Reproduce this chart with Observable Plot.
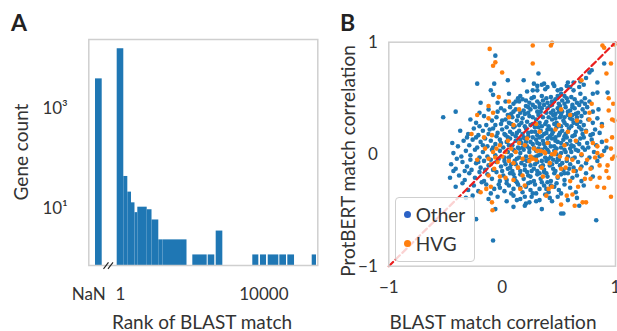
<!DOCTYPE html>
<html>
<head>
<meta charset="utf-8">
<script src="https://cdn.jsdelivr.net/npm/d3@7"></script>
<script src="https://cdn.jsdelivr.net/npm/@observablehq/plot@0.6"></script>
<style>
  html, body { margin: 0; padding: 0; background: #fff; }
  #wrap { position: relative; width: 617px; height: 331px; overflow: hidden; font-family: Lato, "Open Sans", sans-serif; color: #333; }
  .title { position: absolute; font-size: 19px; line-height: 1; white-space: nowrap; color: #333; transform: translate(-50%, -50%); }
  .panel { position: absolute; font-size: 23px; font-weight: 700; line-height: 1; color: #222; }
  #legend { position: absolute; box-sizing: border-box; border: 1.5px solid #cfcfcf; border-radius: 4px; background: rgba(255,255,255,0.8); }
  .lrow { position: absolute; font-size: 19px; line-height: 1; white-space: nowrap; color: #333; }
  .ldot { position: absolute; width: 7px; height: 7px; border-radius: 50%; }
</style>
</head>
<body>
<div id="wrap"></div>
<script>
// ---------------- Panel A data: histogram of BLAST match rank ----------------
// bin edges are in log10(rank) units; the NaN bin sits left of the axis break
const binLo    = [-0.697, -0.092, 0.092, 0.204, 0.307, 0.404, 0.483, 0.745, 0.879, 1.068, 1.186, 1.674, 2.017, 2.446, 2.669, 3.690, 3.905, 4.120, 4.444, 4.667, 5.347];
const binHi    = [-0.510,  0.092, 0.204, 0.307, 0.404, 0.483, 0.745, 0.879, 1.068, 1.186, 1.674, 1.855, 2.418, 2.630, 2.854, 3.858, 4.073, 4.416, 4.630, 4.854, 5.467];
const binCount = [3300, 13200, 37, 18, 11, 7, 9, 8, 5, 2, 2, 2, 1, 1, 3, 1, 1, 1, 1, 1, 1];
const rankTickPos    = [-0.884, 0, 4];
const rankTickLabels = ["NaN", "1", "10000"];
const countTicks      = [10, 1000];
const countTickLabels = ["10¹", "10³"];
const breakX1 = [-0.474, -0.349];
const breakX2 = [-0.335, -0.209];
const breakY  = [0.525, 0.71];

// ---------------- Panel B data: [BLAST corr, ProtBERT corr] ----------------
const otherGenes = [
[-0.06,0.88],[0.32,0.72],[0.90,0.81],[0.77,0.73],[0.79,0.75],[0.84,0.64],[-0.22,0.63],[-0.07,0.63],[0.05,0.66],[0.19,0.66],[0.93,0.55],[0.84,0.55],[0.80,0.54],
[-0.10,0.57],[0.28,0.63],[0.31,0.61],[0.35,0.62],[0.37,0.63],[0.40,0.60],[0.45,0.63],[0.46,0.61],[0.52,0.58],[0.57,0.61],[0.58,0.64],[0.60,0.60],[0.63,0.64],[0.68,0.60],[0.69,0.65],[0.72,0.62],[0.74,0.68],[0.22,0.56],[0.27,0.57],[0.31,0.57],[0.38,0.58],[0.49,0.57],[0.63,0.57],
[-0.08,0.53],[0.06,0.54],[0.16,0.52],[0.14,0.50],[0.18,0.49],[0.15,0.47],[0.28,0.51],[0.43,0.51],[0.52,0.54],[0.55,0.52],[0.61,0.51],[0.69,0.54],[0.66,0.46],[0.36,0.48],[0.40,0.46],[0.47,0.49],[0.58,0.47],[0.73,0.50],[0.77,0.47],[0.24,0.46],[0.03,0.47],[-0.04,0.46],[-0.19,0.46],[0.10,0.45],[0.33,0.45],[0.50,0.45],[0.62,0.44],
[-0.41,0.38],[-0.20,0.37],[-0.01,0.41],[-0.04,0.38],[0.02,0.39],[0.07,0.42],[0.12,0.40],[0.16,0.37],[0.21,0.43],[0.25,0.40],[0.29,0.42],[0.31,0.38],[0.35,0.41],[0.39,0.37],[0.42,0.43],[0.45,0.39],[0.49,0.41],[0.53,0.38],[0.56,0.42],[0.60,0.39],[0.64,0.41],[0.67,0.37],[0.71,0.40],[0.75,0.42],[0.80,0.38],[0.85,0.40],[0.20,0.36],[0.08,0.36],[-0.12,0.40],[0.37,0.44],[0.58,0.35],[0.47,0.36],
[-0.52,0.33],[-0.23,0.28],[-0.28,0.31],[-0.16,0.34],[-0.09,0.30],[-0.05,0.33],[-0.01,0.27],[0.03,0.31],[0.06,0.28],[0.09,0.33],[0.13,0.30],[0.15,0.26],[0.18,0.32],[0.22,0.29],[0.24,0.34],[0.27,0.27],[0.30,0.31],[0.33,0.28],[0.36,0.33],[0.39,0.29],[0.41,0.25],[0.44,0.31],[0.48,0.28],[0.51,0.33],[0.54,0.30],[0.57,0.26],[0.60,0.32],[0.63,0.28],[0.66,0.33],[0.69,0.29],[0.72,0.26],[0.76,0.31],[0.80,0.28],[0.84,0.32],[0.88,0.27],[0.11,0.25],[-0.14,0.26],[0.35,0.25],[0.45,0.35],[0.62,0.35],
[-0.37,0.21],[-0.30,0.18],[-0.25,0.23],[-0.21,0.17],[-0.17,0.21],[-0.12,0.18],[-0.08,0.23],[-0.04,0.19],[0.00,0.22],[0.03,0.17],[0.07,0.20],[0.10,0.24],[0.12,0.16],[0.15,0.21],[0.18,0.18],[0.21,0.23],[0.23,0.16],[0.26,0.20],[0.29,0.24],[0.31,0.17],[0.34,0.21],[0.37,0.18],[0.40,0.22],[0.42,0.16],[0.45,0.20],[0.48,0.24],[0.50,0.17],[0.53,0.21],[0.56,0.18],[0.59,0.23],[0.62,0.16],[0.65,0.20],[0.68,0.24],[0.71,0.18],[0.74,0.21],[0.78,0.17],[0.82,0.22],[0.86,0.19],[0.05,0.15],[0.19,0.15],[0.33,0.15],[0.47,0.15],[0.57,0.15],
[-0.44,0.10],[-0.39,0.07],[-0.34,0.12],[-0.29,0.08],[-0.26,0.13],[-0.22,0.06],[-0.19,0.11],[-0.15,0.14],[-0.13,0.07],[-0.10,0.12],[-0.06,0.09],[-0.02,0.13],[0.01,0.06],[0.04,0.11],[0.07,0.14],[0.09,0.08],[0.12,0.12],[0.14,0.06],[0.17,0.10],[0.20,0.14],[0.22,0.07],[0.25,0.11],[0.28,0.06],[0.30,0.13],[0.33,0.09],[0.36,0.12],[0.38,0.06],[0.41,0.10],[0.44,0.14],[0.46,0.07],[0.49,0.11],[0.52,0.06],[0.54,0.13],[0.57,0.09],[0.60,0.12],[0.63,0.07],[0.66,0.11],[0.69,0.14],[0.71,0.06],[0.75,0.10],[0.79,0.13],[0.83,0.08],[0.88,0.11],[0.92,0.06],[0.27,0.15],[0.40,0.14],[0.60,0.05],
[-0.43,0.01],[-0.40,-0.04],[-0.32,0.03],[-0.36,-0.02],[-0.28,-0.01],[-0.24,0.04],[-0.20,-0.03],[-0.17,0.02],[-0.13,-0.02],[-0.09,0.04],[-0.06,-0.01],[-0.02,0.03],[0.02,-0.03],[0.05,0.02],[0.08,-0.01],[0.10,0.04],[0.13,-0.04],[0.16,0.01],[0.19,0.04],[0.21,-0.02],[0.24,0.02],[0.27,-0.03],[0.30,0.03],[0.32,-0.01],[0.35,0.04],[0.38,-0.03],[0.41,0.02],[0.43,-0.02],[0.46,0.03],[0.49,-0.04],[0.52,0.01],[0.55,0.04],[0.58,-0.02],[0.61,0.02],[0.64,-0.03],[0.67,0.03],[0.70,-0.01],[0.73,0.04],[0.77,-0.03],[0.81,0.02],[0.86,-0.02],[0.90,0.03],[0.15,0.05],[0.34,0.00],[0.48,0.00],
[-0.45,-0.09],[-0.41,-0.13],[-0.35,-0.07],[-0.31,-0.11],[-0.27,-0.14],[-0.23,-0.08],[-0.19,-0.12],[-0.16,-0.06],[-0.12,-0.10],[-0.08,-0.14],[-0.05,-0.07],[-0.01,-0.11],[0.02,-0.06],[0.05,-0.13],[0.08,-0.09],[0.11,-0.06],[0.14,-0.12],[0.17,-0.08],[0.20,-0.14],[0.22,-0.06],[0.25,-0.10],[0.28,-0.13],[0.31,-0.07],[0.34,-0.11],[0.37,-0.14],[0.39,-0.06],[0.42,-0.10],[0.45,-0.13],[0.48,-0.07],[0.51,-0.10],[0.54,-0.14],[0.57,-0.06],[0.60,-0.09],[0.63,-0.12],[0.67,-0.07],[0.70,-0.11],[0.74,-0.08],[0.79,-0.12],[0.84,-0.06],[0.09,-0.15],[0.31,-0.15],[0.45,-0.05],
[-0.46,-0.21],[-0.43,-0.15],[-0.38,-0.19],[-0.33,-0.23],[-0.29,-0.17],[-0.24,-0.21],[-0.20,-0.16],[-0.16,-0.24],[-0.13,-0.18],[-0.09,-0.22],[-0.05,-0.16],[-0.02,-0.24],[0.01,-0.19],[0.04,-0.23],[0.07,-0.17],[0.11,-0.21],[0.13,-0.25],[0.16,-0.18],[0.19,-0.22],[0.22,-0.16],[0.25,-0.20],[0.28,-0.24],[0.31,-0.18],[0.34,-0.22],[0.37,-0.16],[0.40,-0.20],[0.43,-0.24],[0.46,-0.17],[0.49,-0.21],[0.52,-0.18],[0.55,-0.23],[0.58,-0.17],[0.62,-0.21],[0.66,-0.19],[0.70,-0.24],[0.74,-0.17],[0.80,-0.20],[0.25,-0.25],[0.40,-0.25],
[-0.41,-0.29],[-0.35,-0.26],[-0.30,-0.32],[-0.25,-0.28],[-0.21,-0.33],[-0.14,-0.27],[-0.07,-0.31],[-0.03,-0.27],[0.02,-0.33],[0.06,-0.28],[0.10,-0.31],[0.14,-0.27],[0.18,-0.34],[0.21,-0.29],[0.25,-0.32],[0.29,-0.27],[0.33,-0.31],[0.37,-0.28],[0.41,-0.34],[0.46,-0.29],[0.50,-0.32],[0.55,-0.27],[0.60,-0.30],[0.65,-0.34],[0.72,-0.28],[0.30,-0.35],
[-0.32,-0.39],[-0.26,-0.37],[-0.12,-0.40],[-0.04,-0.38],[0.04,-0.42],[0.10,-0.37],[0.16,-0.40],[0.21,-0.44],[0.26,-0.38],[0.33,-0.41],[0.38,-0.36],[0.44,-0.42],[0.49,-0.38],[0.58,-0.41],[0.66,-0.39],[0.24,-0.43],
[-0.06,-0.49],[0.10,-0.47],[0.35,-0.49],[0.52,-0.53],[0.54,-0.53],[0.68,-0.46],[0.83,-0.59],[-0.23,-0.58],[-0.08,-0.77],[0.20,-0.46],
[0.12,0.47],[0.21,0.48],[0.26,0.50],[0.31,0.47],[0.35,0.52],[0.39,0.50],[0.44,0.47],[0.49,0.52],[0.53,0.48],[0.57,0.50],[0.64,0.49],[0.70,0.47],[0.23,0.42],[0.27,0.44],[0.33,0.42],[0.40,0.41],[0.44,0.44],[0.51,0.43],[0.55,0.45],[0.62,0.42],[0.68,0.44],[0.73,0.45],
[0.05,0.35],[0.10,0.38],[0.14,0.34],[0.19,0.39],[0.23,0.37],[0.27,0.33],[0.32,0.35],[0.34,0.38],[0.41,0.33],[0.43,0.37],[0.47,0.32],[0.50,0.38],[0.52,0.35],[0.55,0.33],[0.58,0.38],[0.62,0.31],[0.65,0.36],[0.70,0.34],[0.73,0.37],[0.00,0.30],[0.04,0.24],[0.08,0.27],[0.17,0.28],[0.20,0.25],[0.25,0.26],[0.32,0.24],[0.38,0.27],[0.43,0.22],[0.46,0.27],[0.52,0.25],[0.55,0.28],[0.61,0.25],[0.66,0.27],[0.70,0.22],[-0.06,0.26],[-0.11,0.22],[-0.20,0.25],
[-0.05,0.16],[-0.01,0.10],[0.02,0.18],[0.06,0.08],[0.09,0.18],[0.11,0.03],[0.13,0.19],[0.16,0.13],[0.18,0.06],[0.21,0.11],[0.23,0.19],[0.24,0.05],[0.27,0.09],[0.29,0.20],[0.31,0.10],[0.32,0.05],[0.35,0.16],[0.37,0.09],[0.39,0.19],[0.40,0.04],[0.43,0.07],[0.44,0.18],[0.47,0.12],[0.48,0.05],[0.51,0.19],[0.52,0.10],[0.55,0.16],[0.56,0.02],[0.58,0.20],[0.61,0.08],[0.64,0.17],[0.65,0.04],[0.68,0.09],[0.72,0.15],[0.76,0.06],[0.80,0.18],[-0.17,0.08],[-0.23,0.15],[-0.31,0.15],[-0.08,0.06],
[-0.10,-0.05],[-0.03,-0.04],[0.00,-0.15],[0.03,-0.09],[0.06,-0.03],[0.07,-0.12],[0.10,-0.18],[0.12,-0.09],[0.15,-0.03],[0.16,-0.15],[0.19,-0.05],[0.20,-0.10],[0.23,-0.19],[0.24,-0.05],[0.26,-0.15],[0.29,-0.09],[0.30,-0.02],[0.33,-0.17],[0.35,-0.06],[0.36,-0.10],[0.39,-0.17],[0.41,-0.04],[0.44,-0.09],[0.47,-0.15],[0.50,-0.05],[0.53,-0.08],[0.55,-0.17],[0.59,-0.13],[0.62,-0.04],[0.65,-0.15],[-0.15,-0.14],[-0.21,-0.07],[-0.28,-0.05],[-0.33,-0.15],
[-0.02,-0.30],[0.04,-0.26],[0.08,-0.35],[0.12,-0.24],[0.16,-0.30],[0.20,-0.38],[0.23,-0.26],[0.27,-0.35],[0.35,-0.25],[0.39,-0.31],[0.43,-0.28],[0.48,-0.26],[0.52,-0.35],[-0.10,-0.35],[-0.18,-0.25],[0.13,-0.41],[0.30,-0.42],[0.42,-0.39]
];
const hvgGenes = [
[-0.11,0.94],[0.27,0.97],[0.43,0.97],[0.44,0.995],[0.885,0.97],[0.90,0.95],[0.99,0.98],[-0.06,0.82],[-0.08,0.79],[0.27,0.81],[0.00,0.73],[0.92,0.72],[0.96,0.81],[0.70,0.66],
[-0.03,0.51],[0.06,0.47],[0.94,0.50],[-0.12,0.43],[-0.08,0.37],[-0.22,0.35],[-0.12,0.32],[0.06,0.33],[0.10,0.26],[0.94,0.39],[0.77,0.37],[0.60,0.35],[0.99,0.30],[0.50,0.26],[0.47,0.22],[0.30,0.27],[0.77,0.31],
[-0.27,0.18],[-0.16,0.15],[-0.09,0.17],
[-0.06,-0.03],[-0.10,-0.09],[-0.04,-0.07],[0.06,-0.06],[0.10,-0.08],[0.14,-0.12],[-0.07,-0.13],[-0.12,-0.19],[-0.02,-0.20],[0.03,-0.21],[-0.19,-0.34],[-0.10,-0.29],[-0.14,-0.31],[0.18,-0.19],[0.10,-0.23],[0.16,-0.31],[-0.09,-0.43],[-0.08,0.02],[-0.05,0.05],[0.00,-0.02],[0.03,0.02],[-0.12,-0.04],[0.08,0.05],[0.15,0.10],[0.20,0.08],[0.25,-0.02],[0.30,-0.05],[0.28,0.05],[-0.085,-0.50],
[0.84,0.07],[0.96,0.05],[0.97,-0.04],[0.99,-0.02],[0.84,0.01],[0.88,-0.01],[0.27,-0.04],[0.24,-0.06],[0.34,0.03],[0.38,0.01],[0.44,0.00],[0.47,0.02],[0.86,-0.10],[0.93,-0.10],[0.78,-0.13],[0.69,-0.13],[0.63,-0.15],[0.56,-0.12],[0.52,-0.13],[0.86,-0.21],[0.94,-0.21],[0.78,-0.22],[0.67,-0.29],[0.44,-0.29],[0.41,-0.31],[0.84,-0.29],[0.39,-0.37],[0.57,-0.37],[0.62,-0.36],[0.96,-0.38],[0.52,-0.45],[0.64,-0.46],[0.71,-0.43],[0.74,-0.43],
[0.31,0.03],[0.37,0.02],[0.46,0.00],[0.51,-0.02],[0.57,-0.04],[0.97,0.31],[0.97,0.15],[0.92,0.12],[0.74,0.20],[0.66,0.30],[0.82,-0.03],[0.90,-0.30],[0.73,-0.22],[0.49,-0.20],[0.60,-0.24],[0.35,-0.12],[0.55,0.08],
[-0.02,0.08],[0.05,0.12],[0.12,0.02],[0.18,-0.04],[0.22,0.14],[-0.15,0.05],[0.40,0.10],[0.42,-0.08],[0.33,0.20],[0.65,0.12],[0.70,0.00],[0.75,-0.05],[0.80,0.10],[0.92,-0.15],[0.98,0.45],[0.58,0.20],[0.62,-0.05],[0.36,-0.20],[0.20,-0.28],[-0.22,-0.05],[0.88,0.25],[0.79,0.45],[0.52,0.40],[0.15,0.40]
];
const identityLine = [[-1, -1], [1, 1]];
const corrTicks = [-1, 0, 1];
const legendLabels = ["Other", "HVG"];
const legendColors = ["#2b62c6", "#ff7f0e"];

const BLUE = "#1f77b4", ORANGE = "#ff7f0e";
const wrap = document.getElementById("wrap");

// ---------------- Panel A ----------------
const bins = binLo.map((lo, i) => ({lo, hi: binHi[i], count: binCount[i]}));
const breaks = breakX1.map((x1, i) => ({x1, x2: breakX2[i]}));
const yMinA = 0.615;
const plotA = Plot.plot({
  width: 320, height: 331,
  marginLeft: 88.3, marginRight: 2.7, marginTop: 39, marginBottom: 66,
  style: {fontFamily: "Lato, sans-serif", fontSize: "17px", color: "#333", background: "transparent", overflow: "visible"},
  x: {type: "linear", domain: [-0.884, 5.503]},
  y: {type: "log", domain: [yMinA, 20200]},
  marks: [
    Plot.rect(bins, {x1: "lo", x2: "hi", y1: () => yMinA, y2: "count", fill: BLUE}),
    Plot.frame({stroke: "#cfcfcf", strokeWidth: 1.5}),
    Plot.link(breaks, {x1: "x1", x2: "x2", y1: () => breakY[0], y2: () => breakY[1], stroke: "#222", strokeWidth: 1.1}),
    Plot.axisX({ticks: rankTickPos, tickFormat: d => rankTickLabels[rankTickPos.indexOf(d)], tickSize: 0, tickPadding: 22, label: null}),
    Plot.axisY({ticks: countTicks, tickFormat: d => countTickLabels[countTicks.indexOf(d)], tickSize: 0, tickPadding: 21, dy: 4, label: null})
  ]
});
plotA.style.position = "absolute"; plotA.style.left = "0px"; plotA.style.top = "0px";
wrap.appendChild(plotA);

// ---------------- Panel B ----------------
const fmtInt = d3.format("d");
const plotB = Plot.plot({
  width: 297, height: 331,
  marginLeft: 68.3, marginRight: 2, marginTop: 41.7, marginBottom: 65.3,
  style: {fontFamily: "Lato, sans-serif", fontSize: "17px", color: "#333", background: "transparent", overflow: "visible"},
  x: {domain: [-1, 1]},
  y: {domain: [-1, 1]},
  marks: [
    Plot.dot(otherGenes, {x: d => d[0], y: d => d[1], r: 2.3, fill: BLUE, stroke: "none"}),
    Plot.dot(hvgGenes, {x: d => d[0], y: d => d[1], r: 2.3, fill: ORANGE, stroke: "none"}),
    Plot.line(identityLine, {x: d => d[0], y: d => d[1], stroke: "#ea1f1f", strokeWidth: 2.2, strokeDasharray: "6,3.5"}),
    Plot.frame({stroke: "#cfcfcf", strokeWidth: 1.5}),
    Plot.axisX({ticks: corrTicks, tickFormat: fmtInt, tickSize: 0, tickPadding: 15, label: null}),
    Plot.axisY({ticks: corrTicks, tickFormat: fmtInt, tickSize: 0, tickPadding: 11, label: null})
  ]
});
plotB.style.position = "absolute"; plotB.style.left = "320px"; plotB.style.top = "0px";
wrap.appendChild(plotB);

// ---------------- titles, panel letters, legend ----------------
function addTitle(text, cx, cy, rotate) {
  const d = document.createElement("div");
  d.className = "title";
  d.textContent = text;
  d.style.left = cx + "px"; d.style.top = cy + "px";
  if (rotate) d.style.transform = "translate(-50%, -50%) rotate(-90deg)";
  wrap.appendChild(d);
}
addTitle("Rank of BLAST match", 202, 321);
addTitle("Gene count", 20, 152, true);
addTitle("BLAST match correlation", 493, 321);
addTitle("ProtBERT match correlation", 347, 161, true);

[["A", 11, 11], ["B", 340, 11]].forEach(([t, x, y]) => {
  const d = document.createElement("div");
  d.className = "panel"; d.textContent = t;
  d.style.left = x + "px"; d.style.top = y + "px";
  wrap.appendChild(d);
});

const legend = document.createElement("div");
legend.id = "legend";
legend.style.left = "394.7px"; legend.style.top = "197.3px";
legend.style.width = "80px"; legend.style.height = "64.4px";
legendLabels.forEach((lab, i) => {
  const cy = 16.7 + i * 28.7;
  const dot = document.createElement("div");
  dot.className = "ldot";
  dot.style.background = legendColors[i];
  dot.style.left = (11.6 - 3.5) + "px"; dot.style.top = (cy - 3.5) + "px";
  legend.appendChild(dot);
  const t = document.createElement("div");
  t.className = "lrow"; t.textContent = lab;
  t.style.left = "20px"; t.style.top = (cy - 10) + "px";
  legend.appendChild(t);
});
wrap.appendChild(legend);
</script>
</body>
</html>
